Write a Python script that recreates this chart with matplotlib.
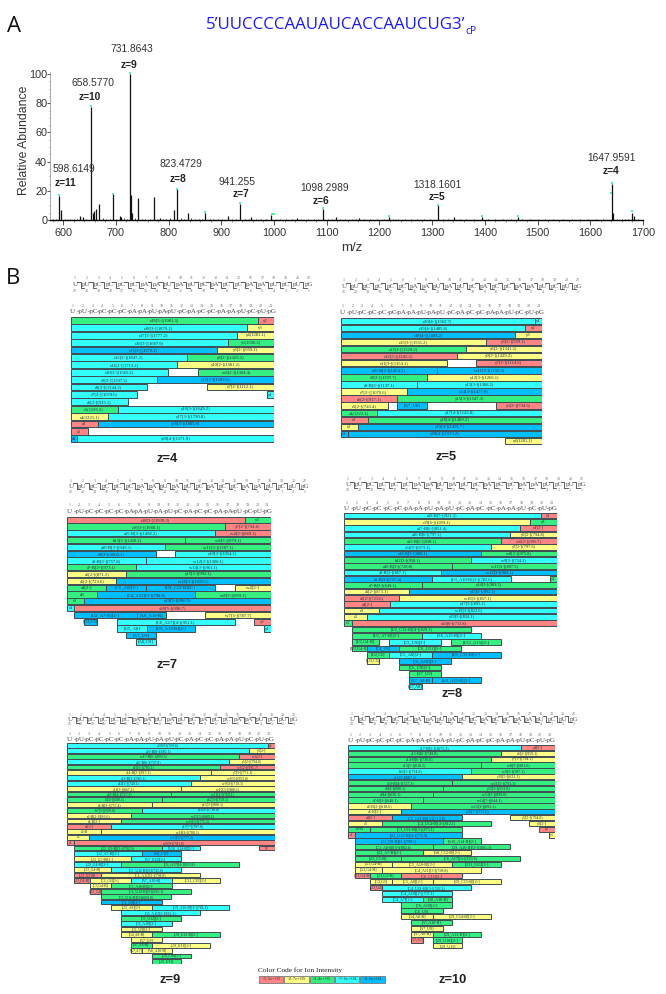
import matplotlib
matplotlib.use('Agg')
import matplotlib.pyplot as plt

W, H = 666, 994

# Panel A: spectrum
peak_mz = [593, 595, 631, 637, 652, 656, 659, 662, 668, 694, 707, 710, 726, 728, 731, 742.5, 772,
           784, 796, 810, 816.5, 836, 870, 912, 935, 957, 994, 1044, 1092, 1117, 1161, 1218,
           1311, 1342, 1395, 1462, 1641, 1643, 1671, 1680, 1682]
peak_h = [16.5, 7, 3, 2, 77.5, 5, 6, 7.5, 11, 17.5, 3, 2, 100, 17, 5, 15, 16,
          1.5, 1, 7, 21, 4.5, 5, 3, 11, 2, 3.5, 1.5, 7.5, 2, 1.5, 2,
          10, 2, 2, 2, 24.5, 5, 1, 5, 3]
noise_mz = [580, 586, 604, 612, 620, 626, 644, 675, 682, 688, 700, 716, 722, 736, 750, 756, 764, 778,
            790, 803, 823, 830, 842, 850, 858, 864, 878, 885, 893, 902, 920, 928, 945, 952, 965, 975,
            985, 1003, 1012, 1022, 1034, 1052, 1064, 1075, 1083, 1102, 1110, 1125, 1135, 1148, 1155,
            1170, 1182, 1195, 1208, 1225, 1236, 1248, 1260, 1272, 1284, 1296, 1320, 1330, 1352, 1365,
            1380, 1405, 1420, 1435, 1450, 1470, 1485, 1500, 1515, 1530, 1548, 1565, 1580, 1595, 1610,
            1625, 1650, 1660, 1665, 1690]
noise_h = [0.5, 0.6, 0.8, 0.5, 0.7, 0.6, 1.0, 1.5, 1.0, 0.8, 0.9, 1.2, 0.8, 1.2, 0.9, 0.7, 1.0, 0.8,
           1.0, 1.2, 1.4, 1.0, 1.1, 0.8, 0.6, 0.7, 0.9, 0.6, 0.7, 0.5, 1.0, 0.7, 0.8, 0.6, 0.7, 0.5,
           0.6, 0.8, 0.5, 0.6, 0.5, 0.7, 0.5, 0.6, 0.5, 0.9, 0.7, 0.7, 0.5, 0.6, 0.8,
           0.7, 0.5, 0.6, 0.5, 0.8, 0.5, 0.6, 0.5, 0.6, 0.7, 0.5, 0.7, 0.6, 0.8, 0.5,
           0.5, 0.8, 0.6, 0.5, 0.6, 0.9, 0.5, 0.6, 0.5, 0.5, 0.6, 0.5, 0.6, 0.5, 0.6,
           0.5, 0.8, 1.0, 1.0, 0.8]
mark_mz = [593, 652, 694, 726, 816.5, 870, 935, 996, 1000, 1092, 1218, 1311, 1395, 1462, 1639, 1641, 1680]
mark_h = [17, 78, 18, 101, 21.5, 5.5, 11.5, 4, 4, 8, 2.5, 10.5, 3, 3, 18.5, 25.5, 6.5]

title_seq = "5\u2019UUCCCCAAUAUCACCAAUCUG3\u2019"
peak_names = ['731.8643', '658.5770', '598.6149', '823.4729', '941.255', '1098.2989', '1318.1601', '1647.9591']
peak_z = ['z=9', 'z=10', 'z=11', 'z=8', 'z=7', 'z=6', 'z=5', 'z=4']
name_xy = [(131.6, 49.5), (92.6, 82.7), (74.3, 169), (180.5, 164), (237, 182), (324.4, 187.7), (437.4, 184.7), (611.5, 158)]
z_xy = [(128.7, 65), (89.6, 96.7), (65.4, 183), (178.3, 179.3), (240.8, 194.3), (321, 200.7), (436.5, 197), (610.6, 171.3)]

# Panel B
COLORS = {'r': '#ff8585', 'y': '#ffff85', 'g': '#35ef80', 'c': '#33ffff', 'b': '#00bfff'}
legend_codes = ['r', 'y', 'g', 'c', 'b']
legend_text = ['>5.5e+05', '>2.7e+05', '>1.4e+05', '>7.6e+04', '>4.1e+04']
seq = "UUCCCCAAUAUCACCAAUCUG"

z4_rows = [
    [(0, 19.3, 'g', 'c19[3-](1981.3)'), (19.3, 21, 'r', 'y2')],
    [(0, 18.2, 'c', 'c18[3-](1879.2)'), (18.2, 21, 'y', 'y3')],
    [(0, 17.2, 'c', 'c17[3-](1777.2)'), (17.2, 21, 'y', 'y4(1281.1)')],
    [(0, 16.2, 'c', 'c16[3-](1687.9)'), (16.2, 21, 'g', 'y5(1590.2)')],
    [(0, 15.1, 'b', 'c15[3-](1570.2)'), (15.1, 21, 'y', 'y6[2-](959.1)')],
    [(0, 12, 'c', 'c12[2-](1847.2)'), (12, 21, 'g', 'y8[2-](1429.2)')],
    [(0, 11, 'c', 'c11[2-](1713.2)'), (11, 21, 'y', 'y10[2-](1581.2)')],
    [(0, 10, 'c', 'c10[2-](1565.2)'), (13.1, 21, 'g', 'w8[2-](1304.4)')],
    [(0, 8.95, 'c', 'c9[2-](1397.2)'), (8.95, 21, 'b', 'y12[2-](1189.2)')],
    [(0, 7.9, 'c', 'c8[2-](1244.2)'), (14.1, 21, 'y', 'y7[2-](1112.1)')],
    [(0, 6.9, 'c', 'c7[2-](1070.6)'), (20.3, 21, 'c', 'y1')],
    [(0, 5.9, 'c', 'c6[2-](915.1)')],
    [(0, 4.85, 'g', 'c5(1126.2)'), (4.85, 21, 'c', 'y16[3-](1649.2)')],
    [(0, 3.9, 'y', 'c4(1221.1)'), (3.9, 21, 'c', 'y17[3-](1790.8)')],
    [(0, 2.8, 'r', 'a3'), (2.8, 21, 'b', 'y18[3-](1885.8)')],
    [(0, 1.75, 'r', 'c2')],
    [(0, 0.7, 'b', 'd1'), (0.7, 21, 'c', 'y20[4-](1571.9)')],
]

z5_rows = [
    [(0, 20.3, 'c', 'c20[4-](1562.7)'), (20.3, 21, 'c', 'y1')],
    [(0, 19.3, 'c', 'c19[4-](1485.8)'), (19.3, 21, 'r', 'y2')],
    [(0, 18.26, 'b', 'c18[4-](1409.2)'), (18.26, 21, 'y', 'y3')],
    [(0, 15.2, 'y', 'c15[3-](1551.2)'), (15.2, 21, 'r', 'y6[2-](959.1)')],
    [(0, 13.1, 'g', 'c13[3-](1329.2)'), (13.1, 21, 'y', 'y8[2-](1341.2)')],
    [(0, 12.1, 'r', 'c12[3-](1245.2)'), (12.1, 21, 'y', 'y9[2-](1429.2)')],
    [(0, 11.1, 'y', 'c11[3-](1154.1)'), (14.1, 21, 'r', 'y7[2-](1114.6)')],
    [(0, 10.07, 'b', 'a10-B[2-](1454.2)'), (10.07, 21, 'b', 'w11[3-](1192.3)')],
    [(0, 9, 'g', 'c9[2-](1397.7)'), (9, 21, 'y', 'y12[3-](1266.1)')],
    [(0, 8, 'c', 'a8-B[2-](1137.1)'), (8, 21, 'c', 'y13[3-](1366.2)')],
    [(0, 6.9, 'y', 'c7[2-](1070.6)'), (6.9, 21, 'b', 'y14[3-](1477.8)')],
    [(0, 5.9, 'r', 'c6[2-](917.1)'), (5.9, 21, 'g', 'y15[3-](1547.3)')],
    [(0, 4.9, 'y', 'c5[2-](743.4)'), (5.9, 9, 'b', '[A7_U8]'), (16.2, 21, 'r', 'y5[2-](794.6)')],
    [(0, 3.8, 'g', 'c4(1223.1)'), (3.8, 21, 'c', 'y17[4-](1142.8)')],
    [(0, 2.8, 'r', 'c3'), (2.8, 21, 'g', 'y18[4-](1489.2)')],
    [(0, 1.8, 'y', 'c2'), (1.8, 21, 'b', 'y19[4-](1491.7)')],
    [(0, 0.73, 'b', 'c1'), (0.73, 21, 'b', 'y20[4-](1573.2)')],
    [(17.2, 21, 'y', 'y4(1201.1)')],
]

z7_rows = [
    [(0, 18.3, 'r', 'c18[3-](1939.3)'), (18.3, 21, 'g', 'y3')],
    [(0, 16.25, 'g', 'c16[3-](1688.1)'), (16.25, 21, 'r', 'y7[2-](794.6)')],
    [(0, 15.2, 'c', 'a15-B[3-](1498.2)'), (15.2, 21, 'r', 'w4[2-](869.1)')],
    [(0, 12.2, 'g', 'b13[3-](1418.1)'), (12.2, 21, 'g', 'w8[3-](979.1)')],
    [(0, 10.1, 'c', 'a10-B[3-](949.1)'), (10.1, 21, 'g', 'w11[3-](1187.1)')],
    [(0, 9.15, 'b', 'c9[3-](1003.1)'), (11.15, 21, 'c', 'y10[3-](1054.1)')],
    [(0, 8.1, 'c', 'a8-B[3-](757.8)'), (8.1, 21, 'c', 'w12[3-](1306.1)')],
    [(0, 7.1, 'g', 'a7-B[2-](973.1)'), (7.1, 21, 'c', 'w14[3-](961.1)')],
    [(0, 6.1, 'y', 'a6[2-](871.1)'), (6.1, 21, 'g', 'y15[3-](992.1)')],
    [(0, 5.06, 'y', 'a5[2-](723.6)'), (5.06, 21, 'b', 'w16[3-](1029.1)')],
    [(0, 4.03, 'g', 'a4[2-]'), (4.03, 8.1, 'b', '[C5_A8][2-]'), (8.1, 15.2, 'b', '[U9_C12-B][2-]'), (17.3, 21, 'y', 'w4[2-]')],
    [(0, 3.03, 'g', 'd3'), (3.03, 13.2, 'b', '[C4_A11][3-](798.8)'), (13.2, 21, 'g', 'w8[3-](969.1)')],
    [(0, 1.7, 'g', 'c2'), (1.7, 21, 'b', 'y19[5-](996.5)')],
    [(0, 0.7, 'c', 'c1'), (0.7, 21, 'r', 'x20[5-](998.7)')],
    [(0.7, 7.16, 'b', '[U2_A7-B][2-]'), (7.16, 10.2, 'b', '[A8_A10-B]'), (14.25, 21, 'y', 'w7[3-](787.7)')],
    [(1.7, 3.03, 'b', '[U3,C5]'), (5.1, 17.3, 'c', '[C6_A17][4-](951.1)'), (19.3, 21, 'r', 'y2')],
    [(5.1, 8.2, 'c', '[G5_A8]'), (8.2, 13.2, 'b', '[U9_A13-B][2-]'), (20.3, 21, 'c', 'y1')],
    [(6.1, 9.15, 'b', '[A7_U9]')],
    [(7.1, 9.15, 'c', '[A8,U9]')],
]

z8_rows = [
    [(0, 19.4, 'c', 'a19-B[7-](921.2)'), (19.4, 21, 'r', 'y2')],
    [(0, 18.4, 'y', 'c19[6-](1059.1)'), (18.4, 21, 'g', 'y3')],
    [(0, 17.4, 'c', 'a17-B[6-](851.4)'), (17.4, 21, 'r', 'y4[2-]')],
    [(0, 16.4, 'c', 'a16-B[6-](797.1)'), (16.4, 21, 'y', 'y5[2-](794.8)')],
    [(0, 15.46, 'g', 'a15-B[6-](698.1)'), (15.46, 21, 'r', 'w6[2-](995.7)')],
    [(0, 14.47, 'c', 'c14[5-](673.1)'), (14.47, 21, 'y', 'y7[2-](797.6)')],
    [(0, 13.5, 'b', 'a13-B[5-](980.1)'), (13.5, 21, 'g', 'w8[2-](975.8)')],
    [(0, 12.5, 'g', 'b12[3-](958.1)'), (12.5, 21, 'c', 'w9[3-](734.3)')],
    [(0, 10.6, 'g', 'a10-B[3-](728.8)'), (10.6, 21, 'g', 'w11[3-](897.5)')],
    [(0, 9.6, 'c', 'a9-B[3-](867.1)'), (9.6, 21, 'b', 'w12[3-](989.1)')],
    [(0, 8.64, 'b', 'a8-B[3-](757.4)'), (8.64, 16.45, 'c', '[U3_A10-B][3-](782.6)'), (20.3, 21, 'g', 'y1')],
    [(0, 7.65, 'g', 'a7-B[3-](649.1)'), (7.65, 21, 'g', 'y14[3-](989.3)')],
    [(0, 6.4, 'y', 'a6[2-](873.1)'), (6.4, 21, 'b', 'y15[3-](892.1)')],
    [(0, 5.44, 'r', 'a5[2-](723.6)'), (5.44, 21, 'y', 'w16[3-](857.1)')],
    [(0, 4.5, 'r', 'a4[2-]'), (4.5, 21, 'c', 'y17[3-](895.1)')],
    [(0, 3.46, 'y', 'c3'), (3.46, 21, 'c', 'w18[3-](823.0)')],
    [(0, 2.24, 'y', 'c2'), (2.24, 21, 'c', 'y19[3-](834.1)')],
    [(0, 0.73, 'g', 'c1'), (0.73, 21, 'r', 'x20[6-](733.8)')],
    [(0.73, 12.5, 'g', '[U2_C12-B][4-](829.1)')],
    [(0.73, 7.65, 'g', '[U2_A7-B][2-]'), (7.65, 13.5, 'c', '[A8_A13-B][2-]')],
    [(0.73, 3.46, 'g', '[U2,G4-B]'), (4.45, 9.56, 'c', '[C5_U9][2-]'), (10.55, 15.46, 'g', '[U11_G15][2-]')],
    [(0.73, 2.24, 'g', '[U3,G4-B]'), (2.24, 5.44, 'b', '[C4_C6]'), (5.44, 11.54, 'g', '[C6_U11][2-]')],
    [(2.24, 4.45, 'g', '[U2,C6]'), (4.45, 8.64, 'c', '[C5_A8][2-]'), (8.64, 15.46, 'b', '[U9_C15-B][2-]')],
    [(2.24, 3.46, 'y', '[U3,C5]'), (5.44, 10.55, 'b', '[C6_A10][2-]')],
    [(5.44, 9.56, 'g', '[C6_U9][2-]')],
    [(6.4, 9.56, 'g', '[A7_U9]')],
    [(6.4, 8.64, 'b', '[A7_A8-B]'), (8.64, 13.5, 'b', '[U9_A13-B][2-]')],
    [(6.4, 7.65, 'c', '[A7,A8]')],
]

z9_rows = [
    [(0, 20.3, 'c', 'x20[9-](769.6)'), (20.3, 21, 'r', 'y1')],
    [(0, 18.4, 'c', 'a19-B[8-](680.1)'), (18.4, 21, 'y', 'y3[2-]')],
    [(0, 17.4, 'g', 'w17-B[6-](893.9)'), (17.4, 21, 'r', 'w4[2-]')],
    [(0, 16.4, 'c', 'a16-B[6-](797.8)'), (16.4, 21, 'y', 'y5[2-](794.8)')],
    [(0, 15.46, 'g', 'c15[6-](785.1)'), (15.46, 21, 'r', 'w6[2-](995.7)')],
    [(0, 14.5, 'y', 'a14-B[2-](817.1)'), (14.5, 21, 'y', 'y7[3-](771.1)')],
    [(0, 13.47, 'c', 'a13-B[3-](780.1)'), (13.47, 21, 'y', 'w8[3-](953.8)')],
    [(0, 12.5, 'c', 'c12[5-](749.1)'), (12.5, 21, 'y', 'w9[4-](719.1)')],
    [(0, 11.5, 'y', 'a11[3-](867.1)'), (11.5, 21, 'y', 'w10[3-](988.1)')],
    [(0, 10.5, 'g', 'a10-B[4-](727.3)'), (10.5, 21, 'g', 'w11[4-](769.1)')],
    [(0, 9.55, 'g', 'c9[4-](688.1)'), (9.55, 21, 'g', 'y12[3-](759.1)')],
    [(0, 8.6, 'y', 'a8-B[3-](757.4)'), (8.6, 21, 'y', 'y13[3-](888.1)')],
    [(0, 7.6, 'g', 'b7[3-](699.8)'), (7.6, 21, 'c', 'y14[6-](738.8)')],
    [(0, 6.4, 'y', 'a6-B[2-](816.6)'), (6.4, 21, 'g', 'w15[3-](889.1)')],
    [(0, 5.4, 'y', 'a5-B[2-]'), (5.4, 21, 'g', 'w16[3-](775.3)')],
    [(0, 4.4, 'r', 'a4[2-]'), (4.4, 21, 'c', 'y17[7-](787.8)')],
    [(0, 3.44, 'y', 'a3-B'), (3.44, 21, 'y', 'w18[6-](788.1)')],
    [(0, 2.2, 'y', 'c2'), (2.2, 21, 'b', 'w19[5-](777.2)')],
    [(0, 0.7, 'r', 'c1'), (0.7, 21, 'r', 'x20[9-](781.8)')],
    [(0.7, 9.55, 'g', '[U2_U9-B][3-](792.0)'), (9.55, 13.47, 'c', '[A10_A14-B][2-]'), (19.4, 21, 'r', 'y2')],
    [(0.7, 7.6, 'c', '[U2_A7-B][2-]'), (7.6, 11.5, 'b', '[A8_C11]')],
    [(0.7, 6.4, 'y', '[U3_G5-B][2-]'), (6.4, 11.5, 'c', '[A7_U12][2-]')],
    [(0.7, 5.4, 'c', '[U3_G4-B][2-]'), (5.4, 17.4, 'g', '[C6_A17][4-](833.8)')],
    [(0.7, 4.4, 'y', '[U3_G4-B]'), (4.4, 11.5, 'c', '[C5_U11-B][3-](725.6)')],
    [(0.7, 3.44, 'r', '[U3_G3-B]'), (3.44, 13.47, 'y', '[C4_A11][3-](798.8)')],
    [(0.7, 2.3, 'r', '[U3,G4-B]'), (2.3, 6.4, 'y', '[C3_C6][2-]'), (6.4, 10.57, 'c', '[A7_A10-B]'), (10.57, 15.43, 'y', '[C11_C15][2-]')],
    [(2.3, 4.4, 'y', '[C3,G4-B]'), (4.4, 10.57, 'g', '[C5_A10-B][2-]')],
    [(2.3, 3.44, 'r', '[U3_C4]'), (3.44, 12.5, 'g', '[C4_U12-B][3-](692.1)')],
    [(3.44, 10.5, 'g', '[C5_U11-B][3-](669.0)')],
    [(3.44, 9.55, 'b', '[C4_U9][2-]')],
    [(4.4, 8.6, 'y', '[U3_A8][2-]'), (8.6, 16.4, 'c', '[U9_A16-B][3-](784.1)')],
    [(5.4, 13.47, 'c', '[C6_A11][2-](812.1)')],
    [(5.4, 11.5, 'g', '[C6_U12][2-]')],
    [(5.4, 10.57, 'c', '[C6_A10][2-]')],
    [(5.4, 9.55, 'y', '[C6_U9][2-]')],
    [(5.4, 8.6, 'y', '[G4,A8-B]'), (8.6, 15.43, 'g', '[U9_U13-B][2-]')],
    [(6.4, 9.55, 'y', '[A7_U9]')],
    [(6.4, 8.6, 'g', '[A7,A8-B]'), (8.6, 14.45, 'y', '[U9_U11][2-]')],
    [(6.4, 7.6, 'y', '[A7,A7]'), (7.6, 10.57, 'y', '[A8_A10-B]')],
    [(8.6, 12.5, 'g', '[U9,C10][2-]')],
    [(8.6, 11.5, 'g', '[U9_U11]')],
]

z10_rows = [
    [(0, 17.5, 'c', 'a17-B[5-](1075.3)'), (17.5, 21, 'r', 'y4[2-]')],
    [(0, 15.5, 'g', 'a15-B[6-](749.8)'), (15.5, 21, 'y', 'a6[2-](959.1)')],
    [(0, 14.5, 'g', 'a14-B[6-](730.0)'), (14.5, 21, 'y', 'y7[3-](794.1)')],
    [(0, 13.5, 'g', 'c13[5-](810.5)'), (13.5, 21, 'g', 'w8[3-](981.6)')],
    [(0, 12.5, 'c', 'b12[5-](734.9)'), (12.5, 21, 'g', 'w9[5-](587.1)')],
    [(0, 11.55, 'b', 'c11[5-](687.1)'), (11.55, 21, 'y', 'y10[5-](631.1)')],
    [(0, 10.57, 'g', 'a10-B[4-](727.3)'), (10.57, 21, 'g', 'w11[5-](791.1)')],
    [(0, 9.6, 'g', 'c9[4-](688.1)'), (9.6, 21, 'g', 'y12[3-](952.8)')],
    [(0, 8.6, 'g', 'a8[4-](636.1)'), (8.6, 21, 'g', 'w13[3-](899.8)')],
    [(0, 7.6, 'g', 'a7-B[3-](648.1)'), (7.6, 21, 'g', 'w14[7-](644.1)')],
    [(0, 6.4, 'y', 'a6-B[2-](818.6)'), (6.4, 21, 'g', 'w15[3-](893.1)')],
    [(0, 5.4, 'y', 'a5-B[2-]'), (5.4, 21, 'b', 'y16[7-](733.6)')],
    [(0, 4.47, 'r', 'a4[2-]'), (4.47, 11.55, 'b', '[C5_U11-B][3-](713.8)'), (16.46, 21, 'y', 'y5[2-](794.8)')],
    [(0, 3.45, 'y', 'c3'), (3.45, 14.5, 'g', '[C4_U14-B][4-](812.1)'), (18.4, 21, 'y', 'y3[2-]')],
    [(0, 2.24, 'g', 'a2-B'), (2.24, 11.55, 'g', '[C3_U11-B][3-](873.1)'), (19.4, 21, 'r', 'y2')],
    [(0, 0.68, 'r', 'a1'), (0.68, 11.55, 'b', '[U2_U11-B][4-](772.9)'), (20.4, 21, 'y', 'y1')],
    [(0.68, 9.6, 'b', '[U2_U9-B][3-](790.1)'), (9.6, 13.5, 'g', '[A10_A14-B][2-]')],
    [(0.68, 8.6, 'g', '[C1_A8-B][3-](882.6)'), (8.6, 16.46, 'g', '[U9_A16-B][3-](1061.1)')],
    [(0.68, 7.6, 'g', '[U2_A7-B][2-]'), (7.6, 12.5, 'y', '[A8_C12-B][2-]')],
    [(0.68, 5.4, 'g', '[U2_C5-B]'), (5.4, 17.45, 'g', '[C6_A17][4-](833.8)')],
    [(0.68, 4.47, 'y', '[U3,G4-B]'), (4.47, 10.57, 'y', '[C5_A10-B][2-]'), (10.57, 15.5, 'g', '[U11_G15][2-]')],
    [(0.68, 3.45, 'y', '[U3,G4-B]'), (3.45, 13.5, 'y', '[C4_A11][3-](798.8)')],
    [(0.68, 2.24, 'r', '[U3,G4-B]'), (2.24, 5.4, 'g', '[U3,G3-B]'), (5.4, 11.55, 'r', '[C6_C11][2-]')],
    [(2.24, 4.47, 'y', '[C3,G5]'), (4.47, 8.6, 'y', '[C5_A8][2-]'), (8.6, 15.5, 'y', '[U9_C15-B][2-]')],
    [(2.24, 3.45, 'r', '[U3,U4]'), (3.45, 12.5, 'c', '[C4_U11-B][3-](592.1)')],
    [(3.45, 10.57, 'c', '[C4_A10][2-](737.1)')],
    [(3.45, 7.6, 'c', '[C4_A7][2-]'), (7.6, 10.57, 'g', '[A8_A10-B]')],
    [(5.4, 10.57, 'g', '[C6_A10][2-]')],
    [(5.4, 9.6, 'g', '[C6_U9]')],
    [(5.4, 8.6, 'y', '[G4,A8-B]'), (8.6, 14.5, 'y', '[U9_C14-B][2-]')],
    [(6.4, 10.57, 'g', '[A7,A10-B]')],
    [(6.4, 9.6, 'y', '[A7_U9]')],
    [(6.4, 8.6, 'y', '[A7,A8-B]'), (8.6, 13.5, 'g', '[U9_A13-B][2-]')],
    [(6.4, 7.6, 'r', '[G7,A7]'), (8.6, 11.55, 'g', '[U9_U10][2-]')],
    [(8.6, 11.55, 'y', '[U9_U11]')],
]

panels = [
    # rows, left, right, top, row px, ladder left, ladder step, ruler step, ladder offsets, name, name xy
    (z4_rows, 70.7, 274, 316.7, 7.4, 72, 11.7, 9.9, (38.7, 25.7, 11, 5), 'z=4', (166.7, 459)),
    (z5_rows, 340.7, 541.7, 317.3, 7.07, 341, 11.7, 9.8, (37.5, 25, 11.6, 5), 'z=5', (446, 456.7)),
    (z7_rows, 67.3, 270.7, 516.3, 6.8, 68, 11.7, 9.9, (35.6, 24, 11.3, 4.6), 'z=7', (167.3, 665)),
    (z8_rows, 344.3, 556.7, 512.3, 6.33, 345, 11.7, 10.3, (33, 22, 9.3, 3.3), 'z=8', (452.3, 694.3)),
    (z9_rows, 67.3, 274.7, 742.7, 5.4, 67, 11.2, 10, (27.7, 18.7, 8.7, 3.4), 'z=9', (169.7, 980)),
    (z10_rows, 348.3, 555, 744.7, 5.83, 349, 11.1, 10, (30.7, 20.4, 9.7, 4), 'z=10', (452.3, 980)),
]


def px_axes(fig, left, right, top, bottom):
    return fig.add_axes([left / W, 1 - bottom / H, (right - left) / W, (bottom - top) / H])


def draw_rows(fig, rows, left, right, top, step):
    ax = px_axes(fig, left, right, top, top + step * len(rows))
    for i, row in enumerate(rows):
        for start, end, code, label in row:
            ax.barh(i + 0.5, end - start, left=start, height=0.9, color=COLORS[code],
                    edgecolor='#3f4d52', linewidth=0.7)
            fs = min(3.3, step * 0.5)
            ax.text((start + end) / 2, i + 0.52, label, ha='center', va='center', fontsize=fs,
                    family='Liberation Serif', color='#1c3038')
    ax.set_xlim(0, 21)
    ax.set_ylim(len(rows), 0)
    ax.axis('off')


def draw_ladder(ov, left, top, lad_x, lad_step, rul_step, offs):
    y1, y2, y3, y4 = top - offs[0], top - offs[1], top - offs[2], top - offs[3]
    ymid = (y1 + y2) / 2
    n = len(seq)
    for i, s in enumerate(seq):
        cx = lad_x + 3 + i * lad_step
        ov.text(cx, y1, str(i + 1), ha='center', va='center', fontsize=2.8, color='#666666', family='Liberation Serif')
        ov.text(cx, y2, str(n - i), ha='center', va='center', fontsize=2.8, color='#666666', family='Liberation Serif')
        ov.text(cx, ymid, ('p' if i else '') + s, ha='center', va='center', fontsize=5, color='#555555', family='Liberation Serif')
        if i < n - 1:
            gx = cx + lad_step / 2
            ov.plot([gx - 3.5, gx, gx, gx + 3.5], [ymid - 3, ymid - 3, ymid + 3, ymid + 3], color='#444444', lw=0.6)
        rx = left + 2 + i * rul_step
        ov.text(rx, y3, str(i + 1), ha='center', va='center', fontsize=3, color='#666666', family='Liberation Serif')
        ov.text(rx, y4, ('-p' if i else '') + s, ha='center', va='center', fontsize=5, color='#444444', family='Liberation Serif')


fig = plt.figure(figsize=(W / 100, H / 100), dpi=100)

# spectrum
ax = px_axes(fig, 50, 643, 72, 220)
ax.vlines(noise_mz, 0, noise_h, color='#222222', lw=0.6)
ax.vlines(peak_mz, 0, peak_h, color='#111111', lw=0.9)
ax.scatter(mark_mz, mark_h, s=1.2, marker='s', color='#55f0a0', linewidths=0, zorder=3)
ax.set_xlim(575, 1700)
ax.set_ylim(0, 101.4)
ax.set_xticks(range(600, 1701, 100))
ax.set_xticks(range(580, 1701, 20), minor=True)
ax.set_yticks(range(0, 101, 20))
ax.set_yticks(range(0, 101, 5), minor=True)
ax.tick_params(axis='x', which='major', length=3.5, width=0.6, pad=2, labelsize=7.8, colors='#333333')
ax.tick_params(axis='x', which='minor', length=1.5, width=0.4, colors='#444444')
ax.tick_params(axis='y', which='major', length=2, width=0.6, pad=0, labelsize=7.8, colors='#333333')
ax.tick_params(axis='y', which='minor', length=1, width=0.4, colors='#666666')
for lab in ax.get_xticklabels() + ax.get_yticklabels():
    lab.set_family('Liberation Sans')
ax.spines['top'].set_visible(False)
ax.spines['right'].set_visible(False)
ax.spines['bottom'].set_linewidth(1.0)
ax.spines['left'].set_linewidth(0.5)
ax.spines['left'].set_color('#888888')
ax.patch.set_alpha(0)

for rows, left, right, top, step, lad_x, lad_step, rul_step, offs, name, nxy in panels:
    draw_rows(fig, rows, left, right, top, step)

# page-level text, in pixel coordinates
ov = fig.add_axes([0, 0, 1, 1], zorder=5)
ov.set_xlim(0, W)
ov.set_ylim(H, 0)
ov.axis('off')

ov.text(14, 26, 'A', fontsize=16, family='Open Sans', ha='center', va='center', color='#111111')
ov.text(13, 279, 'B', fontsize=16, family='Open Sans', ha='center', va='center', color='#111111')
ov.text(206, 25, title_seq, fontsize=12.2, family='Open Sans', color='#1a1aff', ha='left', va='center')
ov.text(465, 31, 'cP', fontsize=7.5, family='Open Sans', color='#1a1aff', ha='left', va='center')
ov.text(24, 140, 'Relative Abundance', fontsize=8.8, family='Liberation Sans', color='#333333',
        rotation=90, ha='center', va='center')
ov.text(352, 247.7, 'm/z', fontsize=9.5, family='Liberation Sans', color='#333333', ha='center', va='center')

for txt, xy in zip(peak_names, name_xy):
    ov.text(xy[0], xy[1], txt, fontsize=7.4, family='Liberation Sans', color='#333333', ha='center', va='center')
for txt, xy in zip(peak_z, z_xy):
    ov.text(xy[0], xy[1], txt, fontsize=7.4, family='Liberation Sans', weight='bold', color='#222222', ha='center', va='center')

for rows, left, right, top, step, lad_x, lad_step, rul_step, offs, name, nxy in panels:
    draw_ladder(ov, left, top, lad_x, lad_step, rul_step, offs)
    ov.text(nxy[0], nxy[1], name, fontsize=9.3, family='Liberation Sans', weight='bold', color='#222222', ha='center', va='center')

# colour legend
ov.text(258, 970, 'Color Code for Ion Intensity', fontsize=5.3, family='Liberation Serif', color='#222222', ha='left', va='center')
for i, (code, txt) in enumerate(zip(legend_codes, legend_text)):
    x0 = 259 + i * 25.3
    ov.barh(979.3, 24.3, left=x0, height=7.4, color=COLORS[code], edgecolor='#777777', linewidth=0.6)
    ov.text(x0 + 12.1, 979.4, txt, fontsize=3.6, family='Liberation Serif', color='#333333', ha='center', va='center')
ov.set_xlim(0, W)
ov.set_ylim(H, 0)

fig.savefig('out.png', dpi=100)
